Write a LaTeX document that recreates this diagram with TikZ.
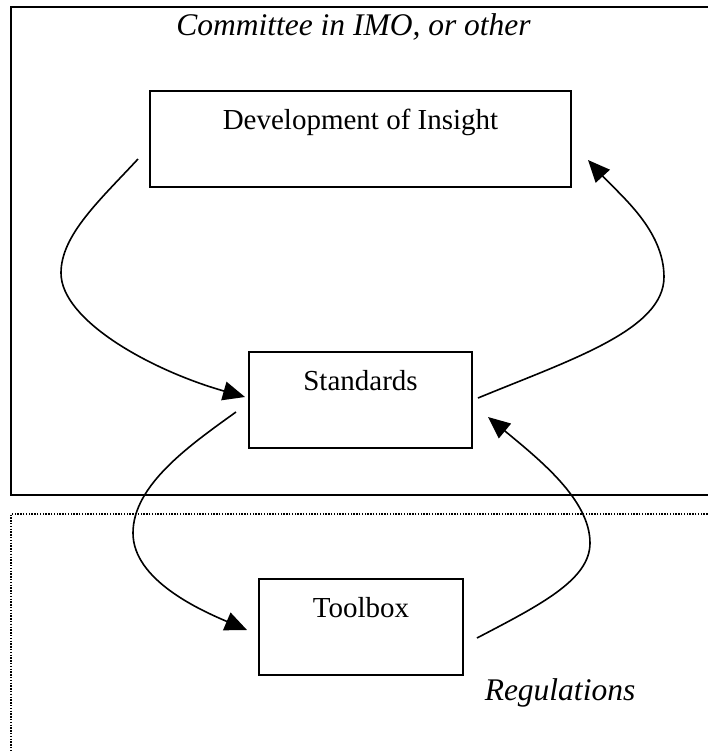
\documentclass[tikz,border=0pt]{standalone}
\usepackage{fontspec}
\setmainfont{Liberation Serif}
\usetikzlibrary{arrows.meta}
\tikzset{
  box/.style={draw, line width=1pt, inner sep=0pt, text height=19pt, text depth=29pt,
    font=\fontsize{14.5}{17}\selectfont},
  ital/.style={inner sep=0pt, anchor=base, font=\fontsize{15.75}{19}\selectfont\itshape},
  frame/.style={line width=1pt},
  dotframe/.style={line width=0.9pt, dash pattern=on 0.7pt off 0.7pt},
  flow/.style={line width=0.8pt, -{Triangle[length=11pt,width=9.5pt]}}
}
\begin{document}
\begin{tikzpicture}[x=0.5pt, y=-0.5pt]
\useasboundingbox (0,0) rectangle (708,751);
\clip (0,0) rectangle (708,751);
% frames
\draw[frame] (11,7) rectangle (730,495);
\draw[dotframe] (730,514) -- (11,514) -- (11,770);
% labels
\node[ital] (committee) at (353.5,35) {Committee in IMO, or other};
\node[ital] (regulations) at (560,700) {Regulations};
% boxes
\node[box, minimum width=210.5pt] (dev) at (360.5,139) {Development of Insight};
\node[box, minimum width=111.5pt] (std) at (360.5,400) {Standards};
\node[box, minimum width=102pt] (tool) at (361,627) {Toolbox};
% connector ends
\coordinate (d1) at (138,159);
\coordinate (s1) at (245,397);
\coordinate (s2) at (478,398);
\coordinate (d2) at (588,160);
\coordinate (s3) at (236,412);
\coordinate (t1) at (247,630);
\coordinate (t2) at (477,638);
\coordinate (s4) at (488,417);
% connectors
\draw[flow] (d1) .. controls (100,200) and (61,235) .. (61,273)
               .. controls (61,320) and (150,370) .. (s1);
\draw[flow] (s2) .. controls (570,360) and (664,330) .. (664,277)
               .. controls (664,230) and (620,195) .. (d2);
\draw[flow] (s3) .. controls (190,445) and (133,485) .. (133,533)
               .. controls (133,580) and (200,610) .. (t1);
\draw[flow] (t2) .. controls (540,605) and (590,580) .. (590,543)
               .. controls (590,500) and (540,460) .. (s4);
\end{tikzpicture}
\end{document}
